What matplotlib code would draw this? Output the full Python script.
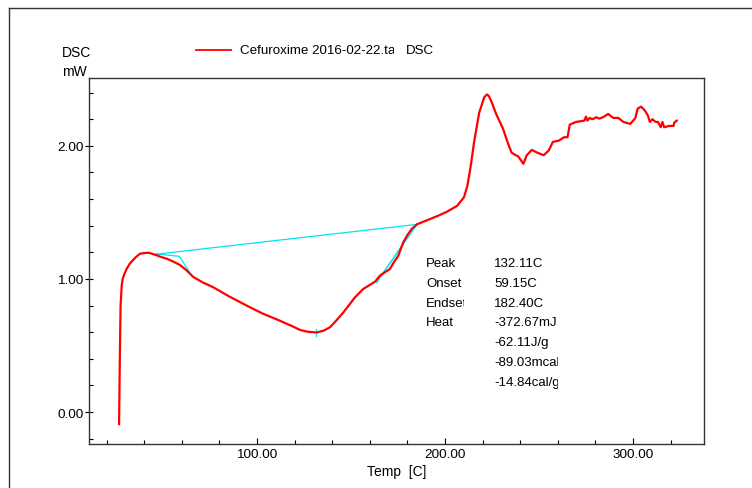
import matplotlib
matplotlib.use("Agg")
import matplotlib.pyplot as plt
from matplotlib.lines import Line2D
from matplotlib.ticker import MultipleLocator, FixedLocator
from matplotlib.transforms import Bbox

plt.rcParams["font.family"] = ["Liberation Sans", "DejaVu Sans"]

W, H, DPI = 752, 489, 100

# DSC trace
temp = [26.6, 27.0, 27.4, 28.0, 28.5, 29.5, 30.6, 32.3, 34.2, 36.0, 37.8, 40.0,
        42.2, 44.0, 46.6, 49.0, 52.0, 55.5, 59.0, 62.5, 66.1, 71.0, 76.8, 85.0,
        94.5, 103.0, 112.2, 118.0, 122.9, 127.0, 131.8, 135.5, 138.8, 142.0,
        146.0, 152.0, 156.5, 160.0, 162.8, 165.4, 168.0, 170.7, 173.0, 175.2,
        177.8, 180.0, 182.3, 185.0, 187.6, 192.0, 196.5, 201.0, 206.5, 210.1,
        211.9, 213.7, 215.5, 218.2, 220.9, 222.3, 223.3, 224.5, 227.2, 230.9,
        233.6, 235.4, 237.0, 239.0, 241.7, 243.5, 246.2, 248.9, 252.5, 255.2,
        257.4, 260.6, 263.4, 265.2, 266.4, 269.7, 274.2, 275.0, 275.8, 276.9,
        278.5, 280.5, 282.0, 284.1, 286.8, 289.5, 292.2, 294.9, 298.6, 301.3,
        302.5, 304.3, 306.1, 307.9, 309.0, 310.3, 312.1, 313.3, 314.8, 315.7,
        316.6, 319.3, 321.6, 322.0, 323.3]
dsc = [-0.09, 0.40, 0.80, 0.95, 1.00, 1.04, 1.075, 1.115, 1.145, 1.17, 1.19, 1.195,
       1.197, 1.19, 1.178, 1.165, 1.152, 1.13, 1.105, 1.065, 1.015, 0.975, 0.937, 0.87,
       0.80, 0.74, 0.686, 0.65, 0.617, 0.603, 0.598, 0.612, 0.637, 0.685,
       0.75, 0.86, 0.925, 0.955, 0.98, 1.025, 1.05, 1.075, 1.13, 1.176,
       1.276, 1.33, 1.376, 1.41, 1.425, 1.45, 1.476, 1.505, 1.55, 1.614,
       1.70, 1.85, 2.03, 2.25, 2.366, 2.386, 2.375, 2.34, 2.24, 2.128,
       2.015, 1.95, 1.935, 1.92, 1.865, 1.93, 1.97, 1.95, 1.93, 1.965,
       2.03, 2.04, 2.065, 2.065, 2.16, 2.18, 2.19, 2.22, 2.19, 2.21,
       2.20, 2.215, 2.205, 2.215, 2.24, 2.21, 2.21, 2.18, 2.165, 2.21,
       2.28, 2.295, 2.27, 2.23, 2.18, 2.20, 2.18, 2.18, 2.14, 2.18,
       2.14, 2.15, 2.15, 2.175, 2.19]

# analysis construction lines (cyan)
base_t, base_y = [45.7, 185.0], [1.185, 1.41]
onset_t, onset_y = [46.6, 58.7, 65.3], [1.188, 1.170, 1.025]
endset_t, endset_y = [185.0, 163.7], [1.41, 0.975]
peak_t, peak_y = [131.6, 131.6], [0.625, 0.57]

result_labels = ["Peak", "Onset", "Endset", "Heat", "", "", ""]
result_values = ["132.11C", "59.15C", "182.40C", "-372.67mJ", "-62.11J/g",
                 "-89.03mcal", "-14.84cal/g"]
legend_file = "Cefuroxime 2016-02-22.tac"
legend_signal = "DSC"


def fx(px):
    return px / W


def fy(py):
    return 1 - py / H


fig = plt.figure(figsize=(W / DPI, H / DPI), dpi=DPI)
ax = fig.add_axes([fx(89), fy(445), fx(704) - fx(89), fy(79) - fy(445)])

ax.plot(base_t, base_y, color="#00e5ee", lw=0.9)
ax.plot(onset_t, onset_y, color="#00e5ee", lw=0.9)
ax.plot(endset_t, endset_y, color="#00e5ee", lw=1.2)
ax.plot(peak_t, peak_y, color="#00e5ee", lw=0.9)
ax.plot(temp, dsc, color="#ff0000", lw=1.6)

ax.set_xlim(10.6, 337.8)
ax.set_ylim(-0.24, 2.51)
ax.xaxis.set_major_locator(FixedLocator([100, 200, 300]))
ax.xaxis.set_minor_locator(MultipleLocator(20))
ax.yaxis.set_major_locator(FixedLocator([0, 1, 2]))
ax.yaxis.set_minor_locator(MultipleLocator(0.2))
ax.xaxis.set_major_formatter(lambda v, p: f"{v:.2f}")
ax.yaxis.set_major_formatter(lambda v, p: f"{v:.2f}")
ax.tick_params(axis="x", which="major", direction="in", length=4, width=0.8,
               labelsize=9.7, pad=3)
ax.tick_params(axis="x", which="minor", direction="in", length=3, width=0.8)
ax.tick_params(axis="y", which="major", direction="inout", length=6, width=0.8,
               labelsize=9.7, pad=1)
ax.tick_params(axis="y", which="minor", direction="in", length=3, width=0.8)
for s in ax.spines.values():
    s.set_color("#333333")
    s.set_linewidth(1.0)

ax.set_xlabel("Temp  [C]", fontsize=10, labelpad=3)

fig.text(fx(62), fy(53), "DSC", fontsize=10, va="center", ha="left")
fig.text(fx(62), fy(72), "mW", fontsize=10, va="center", ha="left")

# legend entry (file name is cut off by the field width)
fig.add_artist(Line2D([fx(196), fx(231)], [fy(51), fy(51)], color="#ff0000", lw=1.3))
lt = fig.text(fx(240), fy(51), legend_file, fontsize=9.6, va="center", ha="left",
              clip_on=True)
lt.set_clip_box(Bbox([[0, 0], [394, H]]))
fig.text(fx(406), fy(51), legend_signal, fontsize=9.6, va="center", ha="left")

# results block, clipped like the instrument software
for i, (lab, val) in enumerate(zip(result_labels, result_values)):
    yy = fy(264 + i * 19.8)
    t1 = fig.text(fx(426), yy, lab, fontsize=9.5, va="center", ha="left", clip_on=True)
    t1.set_clip_box(Bbox([[0, 0], [464, H]]))
    t2 = fig.text(fx(494), yy, val, fontsize=9.5, va="center", ha="left", clip_on=True)
    t2.set_clip_box(Bbox([[0, 0], [558, H]]))

# outer page frame
fig.add_artist(Line2D([fx(9), 1.0], [fy(9), fy(9)], color="#333333", lw=1.0))
fig.add_artist(Line2D([fx(9), fx(9)], [fy(9), 0.0], color="#333333", lw=1.0))

fig.savefig("out.png", dpi=DPI)
